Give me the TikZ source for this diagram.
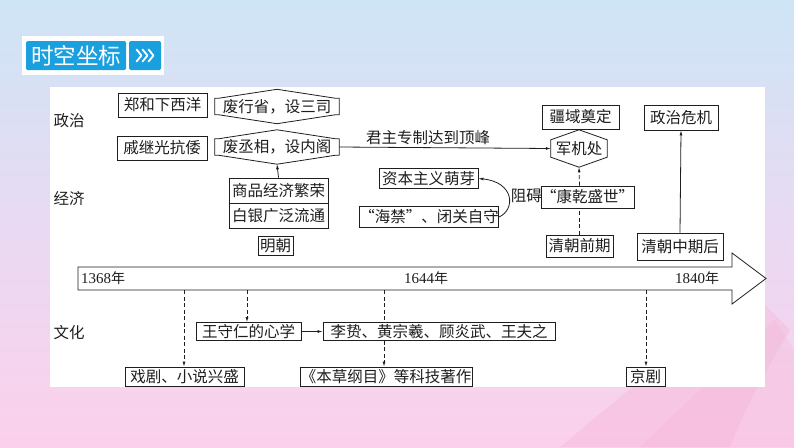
\documentclass[tikz,border=0pt]{standalone}
\usepackage{fontspec}
\setmainfont{Liberation Serif}
\newfontfamily\cjk{Noto Sans CJK SC}
\usetikzlibrary{arrows.meta,calc}

\definecolor{bgtop}{RGB}{206,229,246}
\definecolor{bgmid}{RGB}{232,218,242}
\definecolor{bgbot}{RGB}{252,208,236}
\definecolor{titleblue}{RGB}{26,160,222}
\definecolor{ink}{RGB}{30,30,30}
\definecolor{tent}{RGB}{246,178,214}

\tikzset{
  box/.style={draw=ink, line width=0.8pt, fill=white, inner sep=0pt, text=ink,
    font=\cjk\fontsize{15.5}{15.5}\selectfont},
  hexbody/.style={inner sep=0pt, text=ink, font=\cjk\fontsize{15.5}{15.5}\selectfont},
  hexline/.style={draw=ink, line width=0.8pt},
  conn/.style={draw=ink, line width=0.8pt},
  arr/.style={conn, -{Latex[length=5pt,width=3pt]}},
  dline/.style={conn, dash pattern=on 4pt off 2.5pt},
  darr/.style={arr, dash pattern=on 4pt off 2.5pt},
  rowlabel/.style={text=ink, font=\cjk\fontsize{15.5}{15.5}\selectfont},
  yearlabel/.style={text=ink, inner sep=0pt, font=\fontsize{15}{15}\selectfont},
  chev/.style={draw=white, line width=1.8pt, line cap=round, line join=round}
}

% #1 node name, #2 peak height, #3 tick length
\newcommand\hexpath[3]{%
  \draw[hexline] (#1.south west) -- (#1.north west) -- ([xshift=#3]#1.north west)
    -- ([yshift=#2]#1.north) -- ([xshift=-#3]#1.north east) -- (#1.north east)
    -- (#1.south east) -- ([xshift=-#3]#1.south east) -- ([yshift=-#2]#1.south)
    -- ([xshift=#3]#1.south west) -- cycle;
  \coordinate (#1-top) at ([yshift=#2]#1.north);
  \coordinate (#1-bot) at ([yshift=-#2]#1.south);
}

\begin{document}
\begin{tikzpicture}[x=1pt,y=-1pt]
\useasboundingbox (0,0) rectangle (794,447);

% background
\shade[top color=bgtop, bottom color=bgbot, middle color=bgmid] (0,0) rectangle (794,447);
\fill[tent, opacity=0.35] (560,447) .. controls (640,380) and (700,330) .. (760,300)
  -- (790,330) .. controls (760,380) and (740,420) .. (730,447) -- cycle;
\fill[tent, opacity=0.25] (640,447) .. controls (690,400) and (730,360) .. (775,320)
  -- (794,350) -- (794,447) -- cycle;

% title
\fill[white] (22,36) rectangle (164,75);
\fill[titleblue, rounded corners=1.5pt] (26,41) rectangle (126,70);
\node[text=white, font=\cjk\fontsize{22.5}{22.5}\selectfont, inner sep=0pt] (title) at (76,55.5) {时空坐标};
\fill[titleblue, rounded corners=1.5pt] (129,41) rectangle (161,70);
\foreach \i in {0,1,2} {
  \draw[chev] (136.5+6*\i,49.5) -- (141.5+6*\i,55.5) -- (136.5+6*\i,61.5);
}

% panel
\fill[white] (50,87) rectangle (765,387);

% row labels
\node[rowlabel] (lzz) at (69,121) {政治};
\node[rowlabel] (ljj) at (69,198) {经济};
\node[rowlabel] (lwh) at (69,333) {文化};

% politics
\node[box, minimum width=89pt, minimum height=24pt] (zhenghe) at (162.5,105) {郑和下西洋};
\node[box, minimum width=90pt, minimum height=24pt] (qi) at (162,148) {戚继光抗倭};
\node[hexbody, minimum width=124pt, minimum height=16pt] (feixing) at (277,106.5) {废行省，设三司};
\hexpath{feixing}{9pt}{3.5pt}
\node[hexbody, minimum width=124pt, minimum height=16pt] (feicheng) at (277,147) {废丞相，设内阁};
\hexpath{feicheng}{9pt}{3.5pt}
\node[hexbody, minimum width=56pt, minimum height=17pt] (jjc) at (579,148.5) {军机处};
\hexpath{jjc}{10pt}{0pt}
\node[box, minimum width=77pt, minimum height=24pt] (jiangyu) at (580.5,117) {疆域奠定};
\node[box, minimum width=74pt, minimum height=25pt] (zzwj) at (681,117.5) {政治危机};

% economy
\node[box, minimum width=99pt, minimum height=25pt] (shangpin) at (278.5,190.5) {商品经济繁荣};
\node[box, minimum width=99pt, minimum height=25pt] (baiyin) at (278.5,215.5) {白银广泛流通};
\node[box, minimum width=35pt, minimum height=19pt] (ming) at (275.5,246) {明朝};
\node[box, minimum width=99pt, minimum height=20pt] (zbzy) at (428.5,178.5) {资本主义萌芽};
\node[box, minimum width=136pt, minimum height=21pt] (haijin) at (429,217) {“海禁”、闭关自守};
\node[box, minimum width=83pt, minimum height=22pt] (kangqian) at (587.5,197) {“康乾盛世”};
\node[box, minimum width=67pt, minimum height=22pt] (qcqq) at (579.5,246) {清朝前期};
\node[box, minimum width=86pt, minimum height=27pt] (qczqh) at (680,246.5) {清朝中期后};

% connectors (upper part)
\draw[arr] (feicheng.east) -- node[pos=0.42, above, inner sep=2pt, text=ink,
  font=\cjk\fontsize{15.5}{15.5}\selectfont] (zhuanzhi) {君主专制达到顶峰} (jjc.west);
\draw[arr] (shangpin.north) -- (feicheng-bot);
\draw[arr] (qczqh.north) -- (zzwj.south);
\draw[dline] (qcqq.north) -- (kangqian.south -| qcqq.north);
\draw[darr] (kangqian.north -| qcqq.north) -- (jjc-bot);
\draw[arr] (haijin.east) .. controls (516,209) and (514,182) .. (zbzy.east)
  node[pos=0.5, right, inner sep=2pt, text=ink, font=\cjk\fontsize{15.5}{15.5}\selectfont] (zuai) {阻碍};

% timeline
\draw[conn, fill=white] (78,267) -- (732,267) -- (732,253) -- (766,278.5) -- (732,304)
  -- (732,290) -- (78,290) -- cycle;
\node[yearlabel, anchor=west] (y1368) at (81,278.5) {1368{\cjk\fontsize{14}{14}\selectfont 年}};
\node[yearlabel] (y1644) at (426,278.5) {1644{\cjk\fontsize{14}{14}\selectfont 年}};
\node[yearlabel] (y1840) at (697,278.5) {1840{\cjk\fontsize{14}{14}\selectfont 年}};
\coordinate (t1) at (184,290);
\coordinate (t2) at (247,290);
\coordinate (t3) at (384,290);
\coordinate (t4) at (646,290);

% culture
\node[box, minimum width=105pt, minimum height=18pt] (wsr) at (248.5,331.5) {王守仁的心学};
\node[box, minimum width=232pt, minimum height=18pt] (lizhi) at (439,331.5) {李贽、黄宗羲、顾炎武、王夫之};
\node[box, minimum width=119pt, minimum height=19pt] (xiju) at (184.5,376.5) {戏剧、小说兴盛};
\node[box, minimum width=172pt, minimum height=19pt] (bencao) at (386,376.5) {《本草纲目》等科技著作};
\node[box, minimum width=39pt, minimum height=19pt] (jingju) at (645.5,376.5) {京剧};

\draw[darr] (t1) -- (t1 |- xiju.north);
\draw[darr] (t2) -- (t2 |- wsr.north);
\draw[dline] (t3) -- (t3 |- lizhi.north);
\draw[darr] (t3 |- lizhi.south) -- (t3 |- bencao.north);
\draw[darr] (t4) -- (t4 |- jingju.north);
\draw[arr] (wsr.east) -- (lizhi.west);
\end{tikzpicture}
\end{document}
